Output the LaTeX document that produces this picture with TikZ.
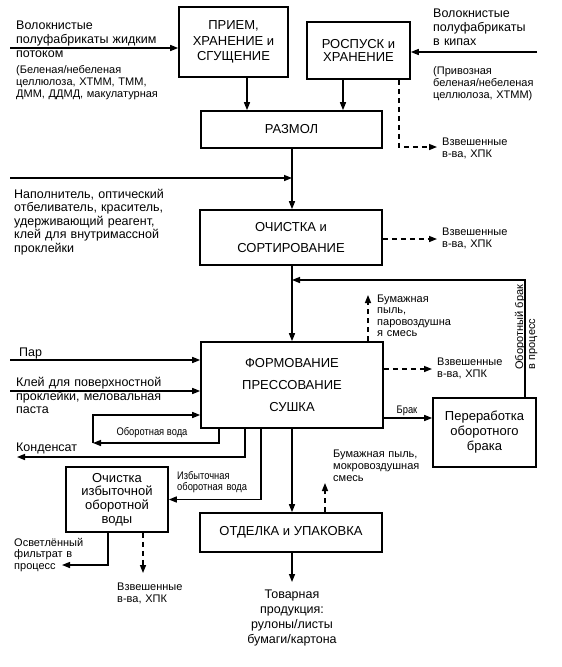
\documentclass[tikz,border=0pt]{standalone}
\usepackage{fontspec}
\setmainfont{Liberation Sans}
\newfontfamily\narrowfont[FakeStretch=0.85]{Liberation Sans}
\usetikzlibrary{arrows.meta,calc}
\begin{document}
\begin{tikzpicture}[x=1pt,y=-1pt,
  blk/.style={draw, line width=1.6pt, inner sep=0pt, align=center, font=\fontsize{13}{15}\selectfont},
  ln/.style={line width=1.4pt},
  arr/.style={ln, -{Triangle[length=8pt,width=6pt]}},
  darr/.style={arr, dash pattern=on 5pt off 4pt},
  lbl/.style={inner sep=0pt, anchor=base west, align=left, text width=200pt},
  big/.style={font=\fontsize{12.5}{14}\selectfont},
  sm/.style={font=\fontsize{11}{12}\selectfont},
  tiny/.style={font=\narrowfont\fontsize{11}{11.5}\selectfont}
]
\useasboundingbox (0,0) rectangle (562,667);

% boxes
\node[blk, minimum width=109pt, minimum height=70pt, font=\fontsize{13}{15.5}\selectfont] (b1) at (233.5,42) {ПРИЕМ,\\ХРАНЕНИЕ и\\СГУЩЕНИЕ};
\node[blk, minimum width=103pt, minimum height=57pt, font=\fontsize{13}{13.5}\selectfont] (b2) at (358.5,50.5) {РОСПУСК и\\ХРАНЕНИЕ};
\node[blk, minimum width=181pt, minimum height=37pt] (razmol) at (291.5,129.5) {РАЗМОЛ};
\node[blk, minimum width=182pt, minimum height=55pt, font=\fontsize{13}{21}\selectfont] (ochist) at (291,237.5) {ОЧИСТКА и\\СОРТИРОВАНИЕ};
\node[blk, minimum width=182pt, minimum height=86pt, font=\fontsize{13}{22}\selectfont] (form) at (292,385) {ФОРМОВАНИЕ\\ПРЕССОВАНИЕ\\СУШКА};
\node[blk, minimum width=182pt, minimum height=39pt] (otd) at (291,532.5) {ОТДЕЛКА и УПАКОВКА};
\node[blk, minimum width=103pt, minimum height=69pt, font=\fontsize{13}{15}\selectfont] (perer) at (484.5,432.5) {Переработка\\оборотного\\брака};
\node[blk, minimum width=102pt, minimum height=65pt, font=\fontsize{13}{13.7}\selectfont] (ochizb) at (117,499.5) {Очистка\\избыточной\\оборотной\\воды};

% helper coordinates
\coordinate (xA) at (247,0);
\coordinate (xB) at (343,0);
\coordinate (xC) at (399,0);
\coordinate (xM) at (292,0);
\coordinate (xD) at (368,0);
\coordinate (xE) at (325,0);
\coordinate (xF) at (525,0);
\coordinate (xL1) at (219,0);
\coordinate (xL2) at (245,0);
\coordinate (xL3) at (261,0);
\coordinate (xO1) at (108,0);
\coordinate (xO2) at (143,0);
\coordinate (in1) at (10,48);
\coordinate (in2) at (537,52);
\coordinate (in3) at (10,178);
\coordinate (w1) at (437,147);
\coordinate (w2) at (437,239);
\coordinate (fb) at (292,280);
\coordinate (d1) at (368,295);
\coordinate (par) at (10,360);
\coordinate (klej) at (10,391);
\coordinate (w3) at (432,369);
\coordinate (brk) at (400,418);
\coordinate (lpb) at (93,443);
\coordinate (lpt) at (93,415);
\coordinate (kond) at (17,457);
\coordinate (d2) at (325,483);
\coordinate (prod) at (292,582);
\coordinate (filt) at (62,565);
\coordinate (d3) at (143,573);

% connectors
\draw[arr] (in1) -- (in1 -| b1.west);
\draw[arr] (in2) -- (in2 -| b2.east);
\draw[arr] (b1.south -| xA) -- (razmol.north -| xA);
\draw[arr] (b2.south -| xB) -- (razmol.north -| xB);
\draw[darr] (b2.south -| xC) |- (w1);
\draw[arr] (razmol.south -| xM) -- (ochist.north -| xM);
\draw[arr] (in3) -- (in3 -| xM);
\draw[darr] (ochist.east |- w2) -- (w2);
\draw[arr] (ochist.south -| xM) -- (form.north -| xM);
\draw[arr] (perer.north -| xF) |- (fb);
\draw[darr] (form.north -| xD) -- (d1);
\draw[arr] (par) -- (par -| form.west);
\draw[arr] (klej) -- (klej -| form.west);
\draw[arr] (form.south -| xL1) |- (lpb);
\draw[arr] (lpb) -- (lpt) -- (lpt -| form.west);
\draw[arr] (form.south -| xL2) |- (kond);
\draw[arr] (form.south -| xL3) |- (ochizb.east);
\draw[darr] (form.east |- w3) -- (w3);
\draw[arr] (form.east |- brk) -- (perer.west |- brk);
\draw[arr] (form.south -| xM) -- (otd.north -| xM);
\draw[darr] (otd.north -| xE) -- (d2);
\draw[arr] (otd.south -| xM) -- (prod);
\draw[arr] (ochizb.south -| xO1) |- (filt);
\draw[darr] (ochizb.south -| xO2) -- (d3);

% labels
\node[lbl, big] (t1) at (16,29.5) {Волокнистые\\полуфабрикаты жидким\\потоком};
\node[lbl, sm] (t1b) at (16,73) {(Беленая/небеленая\\целлюлоза, ХТММ, ТММ,\\ДММ, ДДМД, макулатурная};
\node[lbl, big] (t2) at (433,17.5) {Волокнистые\\полуфабрикаты\\в кипах};
\node[lbl, sm] (t2b) at (433,74) {(Привозная\\беленая/небеленая\\целлюлоза, ХТММ)};
\node[lbl, sm] (t3) at (442,145) {Взвешенные\\в-ва, ХПК};
\node[lbl, big, font=\fontsize{12.5}{13.6}\selectfont] (t4) at (14,198) {Наполнитель, оптический\\отбеливатель, краситель,\\удерживающий реагент,\\клей для внутримассной\\проклейки};
\node[lbl, sm] (t5) at (442,235) {Взвешенные\\в-ва, ХПК};
\node[lbl, sm, font=\fontsize{11}{11.6}\selectfont] (t6) at (377,302) {Бумажная\\пыль,\\паровоздушна\\я смесь};
\node[lbl, sm, rotate=90] (t7) at (523,370) {Оборотный брак\\в процесс};
\node[lbl, big] (t8) at (19,356) {Пар};
\node[lbl, big, font=\fontsize{12.5}{13.5}\selectfont] (t9) at (16,386.7) {Клей для поверхностной\\проклейки, меловальная\\паста};
\node[lbl, sm] (t10) at (437,365) {Взвешенные\\в-ва, ХПК};
\node[tiny, anchor=base, inner sep=0pt] (t11) at (407,413) {Брак};
\node[tiny, anchor=base, inner sep=0pt] (t12) at (152,435) {Оборотная вода};
\node[lbl, big] (t13) at (16,451.7) {Конденсат};
\node[lbl, tiny] (t14) at (177,479) {Избыточная\\оборотная вода};
\node[lbl, sm, font=\fontsize{11}{11.7}\selectfont] (t15) at (14,546) {Осветлённый\\фильтрат в\\процесс};
\node[lbl, sm] (t16) at (117,590) {Взвешенные\\в-ва, ХПК};
\node[lbl, sm, font=\fontsize{11}{12.3}\selectfont] (t17) at (333,457) {Бумажная пыль,\\мокровоздушная\\смесь};
\node[anchor=base, inner sep=0pt, text width=150pt, align=center, font=\fontsize{12.5}{15}\selectfont] (t18) at (292,598) {Товарная\\продукция:\\рулоны/листы\\бумаги/картона};
\end{tikzpicture}
\end{document}
